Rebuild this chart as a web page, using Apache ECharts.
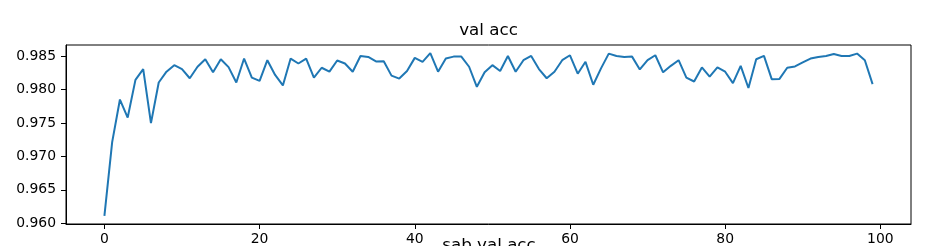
<!DOCTYPE html>
<html>
<head>
<meta charset="utf-8">
<script src="https://cdn.jsdelivr.net/npm/echarts@6/dist/echarts.min.js"></script>
<style>
html,body{margin:0;padding:0;background:#fff;}
#chart{width:945px;height:246px;}
</style>
</head>
<body>
<div id="chart"></div>
<script>
const titleText = 'val acc';
const nextTitleText = 'sab val acc';
const valAcc = [
  0.96109, 0.97214, 0.97852, 0.97582, 0.98146, 0.98308, 0.97498, 0.98107, 0.98269, 0.98367,
  0.98308, 0.98171, 0.98343, 0.98456, 0.98260, 0.98456, 0.98338, 0.98107, 0.98466, 0.98180,
  0.98132, 0.98441, 0.98220, 0.98063, 0.98466, 0.98392, 0.98466, 0.98180, 0.98328, 0.98269,
  0.98436, 0.98392, 0.98269, 0.98505, 0.98490, 0.98422, 0.98426, 0.98210, 0.98166, 0.98279,
  0.98476, 0.98417, 0.98547, 0.98269, 0.98466, 0.98495, 0.98495, 0.98343, 0.98043, 0.98260,
  0.98367, 0.98279, 0.98505, 0.98269, 0.98441, 0.98505, 0.98308, 0.98171, 0.98269, 0.98441,
  0.98515, 0.98239, 0.98417, 0.98073, 0.98319, 0.98540, 0.98505, 0.98490, 0.98495, 0.98303,
  0.98441, 0.98515, 0.98260, 0.98357, 0.98441, 0.98180, 0.98122, 0.98333, 0.98195, 0.98333,
  0.98269, 0.98097, 0.98357, 0.98024, 0.98456, 0.98505, 0.98157, 0.98161, 0.98328, 0.98348,
  0.98407, 0.98466, 0.98490, 0.98505, 0.98534, 0.98505, 0.98505, 0.98540, 0.98441, 0.98083
];
const epochs = valAcc.map((_, i) => i);
const xTicks = [0, 20, 40, 60, 80, 100];
const yTicks = [0.960, 0.965, 0.970, 0.975, 0.980, 0.985];

const xMargin = 0.05 * (epochs[epochs.length - 1] - epochs[0]);
const yMinV = Math.min(...valAcc), yMaxV = Math.max(...valAcc);
const yMargin = 0.05 * (yMaxV - yMinV);

const chart = echarts.init(document.getElementById('chart'), null, {renderer: 'canvas'});
const font = 'DejaVu Sans';
chart.setOption({
  animation: false,
  backgroundColor: '#fff',
  grid: {left: 66, right: 34, top: 45, bottom: 20, show: true, borderColor: '#000', borderWidth: 1, backgroundColor: 'transparent'},
  graphic: [
    {type: 'text', x: 488.5, y: 31, style: {text: titleText, fontFamily: font, fontSize: 16.7, fill: '#000', textAlign: 'center', textVerticalAlign: 'middle', align: 'center', verticalAlign: 'middle'}},
    {type: 'text', x: 489, y: 246, style: {text: nextTitleText, fontFamily: font, fontSize: 16.7, fill: '#000', textAlign: 'center', textVerticalAlign: 'middle', align: 'center', verticalAlign: 'middle'}}
  ],
  xAxis: {
    type: 'value',
    min: epochs[0] - xMargin,
    max: epochs[epochs.length - 1] + xMargin,
    splitLine: {show: false},
    axisLine: {show: true, onZero: false, lineStyle: {color: '#000', width: 1}},
    axisTick: {show: true, length: 5, lineStyle: {color: '#000', width: 1}, customValues: xTicks},
    axisLabel: {show: true, margin: 8, color: '#000', fontFamily: font, fontSize: 13.9, customValues: xTicks, formatter: v => String(v)}
  },
  yAxis: {
    type: 'value',
    min: yMinV - yMargin,
    max: yMaxV + yMargin,
    splitLine: {show: false},
    axisLine: {show: true, onZero: false, lineStyle: {color: '#000', width: 1}},
    axisTick: {show: true, length: 5, lineStyle: {color: '#000', width: 1}, customValues: yTicks},
    axisLabel: {show: true, margin: 10, color: '#000', fontFamily: font, fontSize: 13.9, customValues: yTicks, formatter: v => v.toFixed(3)}
  },
  series: [{
    type: 'line',
    data: epochs.map((e, i) => [e, valAcc[i]]),
    showSymbol: false,
    symbol: 'none',
    lineStyle: {color: '#1f77b4', width: 2},
    clip: true
  }]
});
</script>
</body>
</html>
